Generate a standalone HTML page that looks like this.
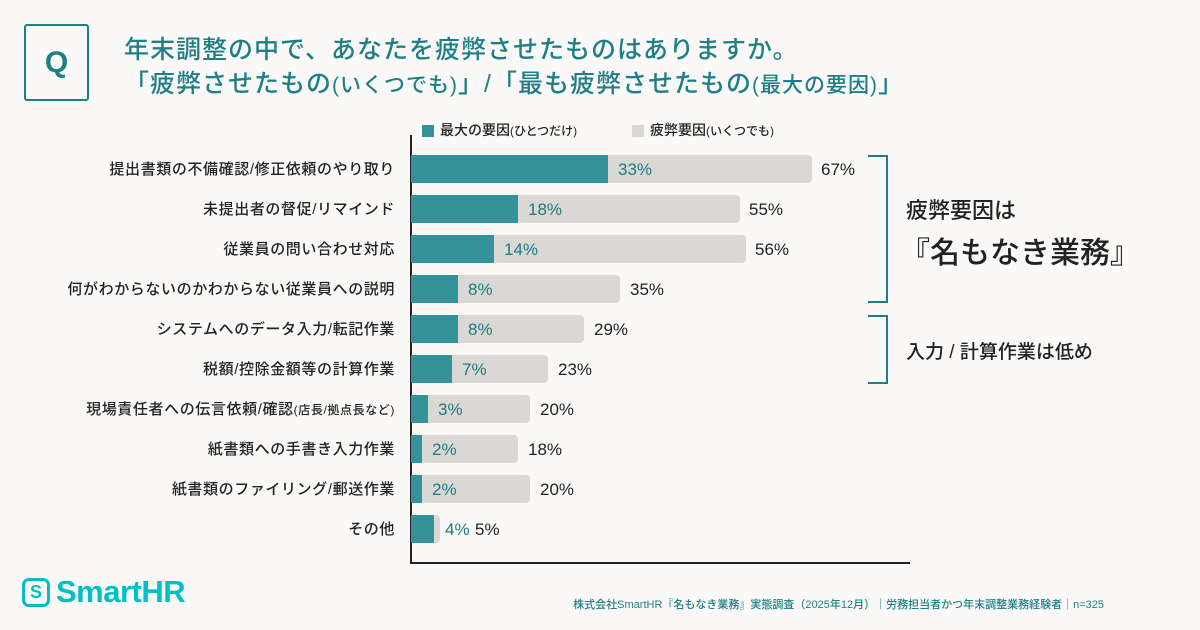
<!DOCTYPE html>
<html><head><meta charset="utf-8"><style>
*{margin:0;padding:0;box-sizing:border-box}
body{width:1200px;height:630px;background:#faf9f7;position:relative;overflow:hidden;font-family:"Liberation Sans","Noto Sans CJK JP",sans-serif;color:#222}
.a{position:absolute;white-space:nowrap}
.q{left:24px;top:24px;width:65px;height:77px;border:2px solid #1f7f86;border-radius:3px;color:#1f7f86;font-size:30px;font-weight:bold;text-align:center;line-height:73px}
.t{left:124px;color:#1f7f86;font-size:25px;font-weight:500;letter-spacing:1px}
.lab{right:805px;font-size:15px;letter-spacing:0.6px;font-weight:500;text-align:right}
.g{position:absolute;left:411px;height:28px;background:#d9d8d5;border-radius:0 4px 4px 0}
.tl{position:absolute;left:411px;height:28px;background:#34939a}
.vi{font-size:17px;color:#1f7a80;font-weight:500}
.vo{font-size:17px;color:#222;font-weight:500}
</style></head><body>
<div class="a q">Q</div>
<div class="a t" style="top:30px">年末調整の中で、あなたを疲弊させたものはありますか。</div>
<div class="a t" style="top:64px">「疲弊させたもの<span style="font-size:21px">(いくつでも)</span>」/「最も疲弊させたもの<span style="font-size:21px">(最大の要因)</span>」</div>

<div class="a" style="left:422px;top:125px;width:12px;height:12px;background:#34939a"></div>
<div class="a" style="left:440px;top:120px;font-size:14px;font-weight:500">最大の要因<span style="font-size:12px">(ひとつだけ)</span></div>
<div class="a" style="left:632px;top:125px;width:12px;height:12px;background:#d9d8d5"></div>
<div class="a" style="left:650px;top:120px;font-size:14px;font-weight:500">疲弊要因<span style="font-size:12px">(いくつでも)</span></div>

<div class="a" style="left:410px;top:135px;width:1.5px;height:428px;background:#222"></div>
<div class="a" style="left:410px;top:562px;width:500px;height:1.5px;background:#222"></div>

<div class="g" style="top:155px;width:401px"></div><div class="tl" style="top:155px;width:197px"></div>
<div class="a lab" style="top:158px">提出書類の不備確認/修正依頼のやり取り</div>
<div class="a vi" style="left:618px;top:160px">33%</div><div class="a vo" style="left:821px;top:160px">67%</div>

<div class="g" style="top:195px;width:329px"></div><div class="tl" style="top:195px;width:107px"></div>
<div class="a lab" style="top:198px">未提出者の督促/リマインド</div>
<div class="a vi" style="left:528px;top:200px">18%</div><div class="a vo" style="left:749px;top:200px">55%</div>

<div class="g" style="top:235px;width:335px"></div><div class="tl" style="top:235px;width:83px"></div>
<div class="a lab" style="top:238px">従業員の問い合わせ対応</div>
<div class="a vi" style="left:504px;top:240px">14%</div><div class="a vo" style="left:755px;top:240px">56%</div>

<div class="g" style="top:275px;width:209px"></div><div class="tl" style="top:275px;width:47px"></div>
<div class="a lab" style="top:278px">何がわからないのかわからない従業員への説明</div>
<div class="a vi" style="left:468px;top:280px">8%</div><div class="a vo" style="left:630px;top:280px">35%</div>

<div class="g" style="top:315px;width:173px"></div><div class="tl" style="top:315px;width:47px"></div>
<div class="a lab" style="top:318px">システムへのデータ入力/転記作業</div>
<div class="a vi" style="left:468px;top:320px">8%</div><div class="a vo" style="left:594px;top:320px">29%</div>

<div class="g" style="top:355px;width:137px"></div><div class="tl" style="top:355px;width:41px"></div>
<div class="a lab" style="top:358px">税額/控除金額等の計算作業</div>
<div class="a vi" style="left:462px;top:360px">7%</div><div class="a vo" style="left:558px;top:360px">23%</div>

<div class="g" style="top:395px;width:119px"></div><div class="tl" style="top:395px;width:17px"></div>
<div class="a lab" style="top:398px">現場責任者への伝言依頼/確認<span style="font-size:12px">(店長/拠点長など)</span></div>
<div class="a vi" style="left:438px;top:400px">3%</div><div class="a vo" style="left:540px;top:400px">20%</div>

<div class="g" style="top:435px;width:107px"></div><div class="tl" style="top:435px;width:11px"></div>
<div class="a lab" style="top:438px">紙書類への手書き入力作業</div>
<div class="a vi" style="left:432px;top:440px">2%</div><div class="a vo" style="left:528px;top:440px">18%</div>

<div class="g" style="top:475px;width:119px"></div><div class="tl" style="top:475px;width:11px"></div>
<div class="a lab" style="top:478px">紙書類のファイリング/郵送作業</div>
<div class="a vi" style="left:432px;top:480px">2%</div><div class="a vo" style="left:540px;top:480px">20%</div>

<div class="g" style="top:515px;width:29px"></div><div class="tl" style="top:515px;width:23px"></div>
<div class="a lab" style="top:518px">その他</div>
<div class="a vi" style="left:445px;top:520px">4%</div><div class="a vo" style="left:475px;top:520px">5%</div>

<div class="a" style="left:868px;top:155px;width:20px;height:148px;border:2px solid #1f7f86;border-left:none"></div>
<div class="a" style="left:868px;top:315px;width:20px;height:69px;border:2px solid #1f7f86;border-left:none"></div>
<div class="a" style="left:906px;top:193px;font-size:22px;font-weight:500">疲弊要因は</div>
<div class="a" style="left:900px;top:228px;font-size:30px;font-weight:500">『名もなき業務』</div>
<div class="a" style="left:906px;top:337px;font-size:19px;font-weight:500">入力 / 計算作業は低め</div>

<div class="a" style="left:22px;top:578px;width:28px;height:29px;border:3px solid #00bfc8;border-radius:7px;color:#00bfc8;font-size:18px;font-weight:bold;text-align:center;line-height:23px">S</div>
<div class="a" style="left:56px;top:574px;font-size:31px;font-weight:bold;color:#00bfc8;letter-spacing:-0.5px">SmartHR</div>
<div class="a" style="right:96px;top:596px;font-size:11px;color:#1f7f86;font-weight:500">株式会社SmartHR『名もなき業務』実態調査（2025年12月）｜労務担当者かつ年末調整業務経験者｜n=325</div>
</body></html>
